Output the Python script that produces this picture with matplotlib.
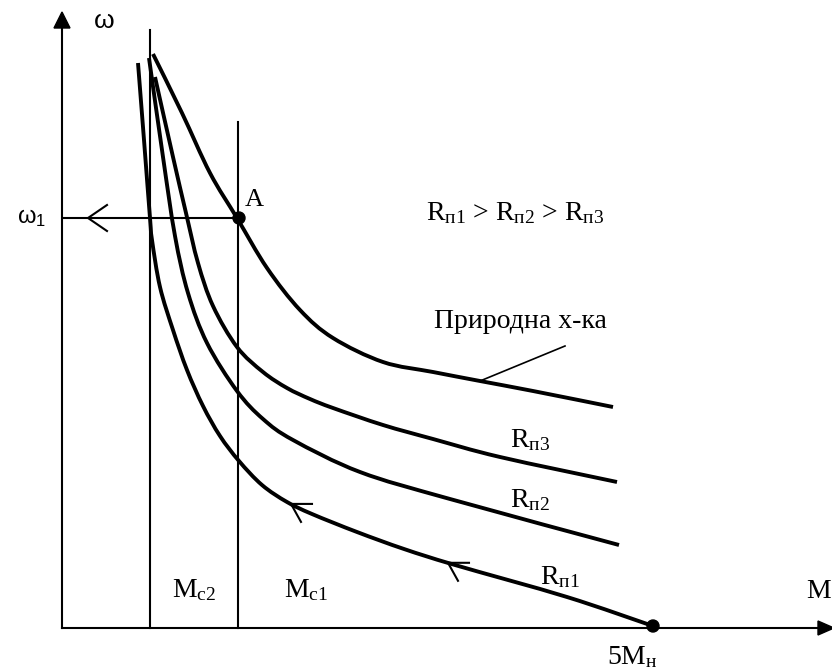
import numpy as np
import matplotlib
matplotlib.use("Agg")
import matplotlib.pyplot as plt
from matplotlib.patches import Polygon, Circle, PathPatch
from matplotlib.path import Path

# sketch units: x = torque M (right from the w axis), y = speed w (up from the M axis)
nat_x = [91, 120, 148, 175, 205, 238, 271, 321, 371, 418, 471, 551]
nat_y = [574, 515, 455, 410, 360, 318, 290, 266, 256, 247, 237, 221]

r3_x = [93, 111, 124, 136, 151, 175, 201, 225, 248, 271, 321, 371, 438, 555]
r3_y = [551, 471, 415, 365, 322, 281, 256, 240, 229, 220, 203, 189, 171, 146]

r2_x = [87, 101, 113, 126, 145, 175, 201, 231, 298, 388, 557]
r2_y = [570, 471, 392, 335, 285, 237, 209, 188, 156, 129, 83]

r1_x = [76, 82, 88, 90, 98, 111, 125, 141, 158, 177, 200, 225, 250, 295, 342, 393, 505, 591]
r1_y = [565, 488, 410, 388, 341, 298, 258, 222, 192, 167, 143, 126, 114, 96, 79, 63, 31, 2]

Mc2 = 88
Mc1 = 176
w1 = 410
M_5n = 591
r1_arrows = [229, 386]   # where the direction marks sit on R_п1

serif = 'Liberation Serif'
sans = 'Liberation Sans'
thick = 2.8
thin = 1.5


def smooth_path(xs, ys):
    # catmull-rom through the read points, drawn as bezier segments
    p = np.column_stack([xs, ys]).astype(float)
    p = np.vstack([p[0], p, p[-1]])
    verts = [p[1]]
    codes = [Path.MOVETO]
    for i in range(1, len(p) - 2):
        c1 = p[i] + (p[i + 1] - p[i - 1]) / 6
        c2 = p[i + 1] - (p[i + 2] - p[i]) / 6
        verts += [c1, c2, p[i + 1]]
        codes += [Path.CURVE4] * 3
    return Path(verts, codes)


fig = plt.figure(figsize=(8.32, 6.69), dpi=100)
ax = fig.add_axes([0, 0, 1, 1])
ax.set_xlim(-62, 770)
ax.set_ylim(-41, 628)
ax.axis('off')

# axes with arrow heads
ax.plot([0, 0], [0, 602], color='black', lw=thin)
ax.add_patch(Polygon([[-8, 600], [8, 600], [0, 616]], closed=True, color='black'))
ax.plot([0, 758], [0, 0], color='black', lw=thin)
ax.add_patch(Polygon([[756, -7], [756, 7], [772, 0]], closed=True, color='black'))

# load lines
ax.plot([Mc2, Mc2], [0, 598], color='black', lw=thin)
ax.plot([Mc1, Mc1], [0, 506], color='black', lw=thin)

# w1 level with arrow
ax.plot([2, Mc1], [w1, w1], color='black', lw=thin)
ax.plot([45, 26, 45], [w1 + 13, w1, w1 - 13], color='black', lw=thin)

# characteristics
for xs, ys in [(nat_x, nat_y), (r3_x, r3_y), (r2_x, r2_y), (r1_x, r1_y)]:
    ax.add_patch(PathPatch(smooth_path(xs, ys), fill=False, edgecolor='black', lw=thick,
                           capstyle='butt', joinstyle='round'))

# direction marks on R_п1
for xa in r1_arrows:
    ya = np.interp(xa, r1_x, r1_y)
    ax.plot([xa + 21, xa, xa + 10], [ya, ya, ya - 18], color='black', lw=thin)

# points A and 5Mн
ax.add_patch(Circle((Mc1 + 1, w1), 6, color='black', zorder=5))
ax.add_patch(Circle((M_5n, r1_y[-1]), 6, color='black', zorder=5))

# leader to natural characteristic
ax.plot([418, 503], [247, 282], color='black', lw=1.2)

# labels
ax.text(42, 607, 'ω', family=sans, fontsize=19, ha='center', va='center')
ax.text(-30, w1, r'ω$\mathregular{_1}$', family=sans, fontsize=17, ha='center', va='center')
ax.text(192, 428, 'A', family=serif, fontsize=19, ha='center', va='center')
ax.text(453, 415, r'R$\mathregular{_{п1}}$ > R$\mathregular{_{п2}}$ > R$\mathregular{_{п3}}$',
        family=serif, fontsize=20, ha='center', va='center')
ax.text(458, 306, 'Природна х-ка', family=serif, fontsize=20, ha='center', va='center')
ax.text(468, 188, r'R$\mathregular{_{п3}}$', family=serif, fontsize=20, ha='center', va='center')
ax.text(468, 128, r'R$\mathregular{_{п2}}$', family=serif, fontsize=20, ha='center', va='center')
ax.text(498, 51, r'R$\mathregular{_{п1}}$', family=serif, fontsize=20, ha='center', va='center')
ax.text(132, 38, r'M$\mathregular{_{c2}}$', family=serif, fontsize=20, ha='center', va='center')
ax.text(244, 38, r'M$\mathregular{_{c1}}$', family=serif, fontsize=20, ha='center', va='center')
ax.text(570, -29, r'5M$\mathregular{_{н}}$', family=serif, fontsize=20, ha='center', va='center')
ax.text(769, 36, 'M', family=serif, fontsize=20, ha='right', va='center')

fig.savefig('out.png', dpi=100)
